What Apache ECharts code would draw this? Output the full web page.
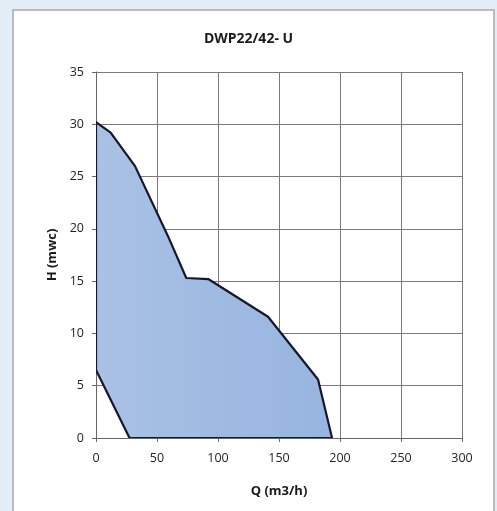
<!DOCTYPE html>
<html><head><meta charset="utf-8">
<script src="https://cdn.jsdelivr.net/npm/echarts@6/dist/echarts.min.js"></script>
<style>html,body{margin:0;padding:0;background:#e4eef9}#c{width:497px;height:511px}</style>
</head><body><div id="c"></div>
<script>
const title = 'DWP22/42- U';
const xName = 'Q (m3/h)';
const yName = 'H (mwc)';
const flowQ = [0, 12, 32, 59, 74, 92, 141, 182, 193.5, 27.5, 0];
const headH = [30.2, 29.2, 26, 19.3, 15.3, 15.2, 11.6, 5.6, 0, 0, 6.5];
const xTicks = [0, 300, 50];
const yTicks = [0, 35, 5];

const pts = flowQ.map((q, i) => [q, headH[i]]);
const chart = echarts.init(document.getElementById('c'));
const font = '"Open Sans", "Liberation Sans", sans-serif';
chart.setOption({
  backgroundColor: '#e4eef9',
  animation: false,
  graphic: [{type: 'rect', shape: {x: 13, y: 10, width: 481, height: 520}, style: {fill: '#ffffff', stroke: '#a8a8a8', lineWidth: 1.5}, z: -10}],
  title: {text: title, left: 'center', top: 27, textStyle: {fontFamily: font, fontSize: 14, fontWeight: 'bold', color: '#1a1a1a'}},
  grid: {left: 96, right: 35, top: 72, bottom: 73},
  xAxis: {type: 'value', min: xTicks[0], max: xTicks[1], interval: xTicks[2],
    name: xName, nameLocation: 'middle', nameGap: 47,
    nameTextStyle: {fontFamily: font, fontSize: 13, fontWeight: 'bold', color: '#1a1a1a'},
    axisLine: {show: true, onZero: false, lineStyle: {color: '#666', width: 1}},
    axisTick: {show: true, length: 4, lineStyle: {color: '#666'}},
    axisLabel: {fontFamily: font, fontSize: 12.5, color: '#222', margin: 14},
    splitLine: {show: true, lineStyle: {color: '#7a7a7a', width: 1}}},
  yAxis: {type: 'value', min: yTicks[0], max: yTicks[1], interval: yTicks[2],
    name: yName, nameLocation: 'middle', nameGap: 28, nameRotate: 90,
    nameTextStyle: {fontFamily: font, fontSize: 13, fontWeight: 'bold', color: '#1a1a1a'},
    axisLine: {show: true, onZero: false, lineStyle: {color: '#666', width: 1}},
    axisTick: {show: true, length: 4, lineStyle: {color: '#666'}},
    axisLabel: {fontFamily: font, fontSize: 12.5, color: '#222', margin: 12},
    splitLine: {show: true, lineStyle: {color: '#7a7a7a', width: 1}}},
  series: [{
    type: 'custom',
    data: pts,
    clip: true,
    renderItem: function (params, api) {
      if (params.dataIndex !== 0) return null;
      const poly = pts.map(p => api.coord(p));
      return {type: 'polygon', shape: {points: poly},
        style: {fill: {type: 'linear', x: 0, y: 0, x2: 1, y2: 0, colorStops: [{offset: 0, color: '#a9c1e4'}, {offset: 1, color: '#97b5e0'}]},
          stroke: '#15172b', lineWidth: 2.2, lineJoin: 'round'}};
    }
  }]
});
</script></body></html>
